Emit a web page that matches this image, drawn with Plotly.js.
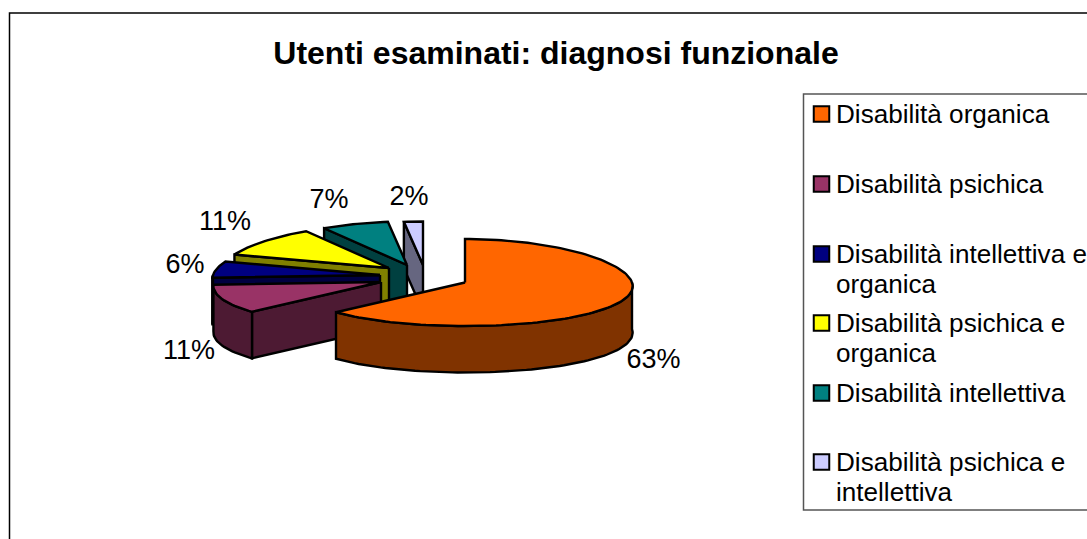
<!DOCTYPE html>
<html>
<head>
<meta charset="utf-8">
<script src="https://cdn.plot.ly/plotly-3.0.1.min.js"></script>
<style>html,body{margin:0;padding:0;background:#fff;overflow:hidden}#c{width:1087px;height:539px}</style>
</head>
<body>
<div id="c"></div>
<script>
// --- data ---
const titleText = 'Utenti esaminati: diagnosi funzionale';
const categories = ['Disabilità organica','Disabilità psichica','Disabilità intellettiva e<br>organica','Disabilità psichica e<br>organica','Disabilità intellettiva','Disabilità psichica e<br>intellettiva'];
const percentages = [63, 11, 6, 11, 7, 2];

// --- styles ---
const topColors  = ['#FF6600','#993366','#000080','#FFFF00','#008080','#CCCCFF'];
const sideColors = ['#803300','#4D1A33','#000040','#808000','#004040','#666680'];

// --- layout of the exploded 3D pie ---
const apexX = [465, 381, 380, 389, 407, 423];
const apexY = [282.5, 282, 275, 268, 265, 265];
const radiusX = 167, radiusY = 43.5, depth = 46.5, persp = 0.002;
const labelX = [653.5, 189, 185, 225, 329, 409];
const labelY = [361, 352, 266, 223, 201, 198];
const keyX = 821.5, textX = 835;
const keyY = [114, 184, 254, 323, 393, 462];

const total = percentages.reduce((a,b)=>a+b,0);
const traces = [];
function pt(i, a){
  const yo = -radiusY*Math.cos(a);
  return [apexX[i] + radiusX*Math.sin(a)*(1+persp*yo), apexY[i] + yo];
}
function poly(xy, color){
  traces.push({type:'scatter',mode:'lines',x:xy.map(p=>p[0]),y:xy.map(p=>p[1]),fill:'toself',fillcolor:color,
    line:{color:'#000',width:2.4,shape:'linear'},hoverinfo:'skip',showlegend:false});
}
function arc(i,a0,a1,dy){
  const n = Math.max(2,Math.ceil(Math.abs(a1-a0)/0.03)), out=[];
  for(let k=0;k<=n;k++){const p=pt(i,a0+(a1-a0)*k/n);out.push([p[0],p[1]+dy]);}
  return out;
}
const starts=[];let acc=0;
percentages.forEach(v=>{starts.push(acc/total*2*Math.PI);acc+=v;});
for(let i=percentages.length-1;i>=0;i--){
  const a0=starts[i], a1=a0+percentages[i]/total*2*Math.PI;
  const ax=[apexX[i],apexY[i]];
  if(Math.sin(a0)<0){const p=pt(i,a0);
    poly([ax,p,[p[0],p[1]+depth],[ax[0],ax[1]+depth],ax],sideColors[i]);}
  if(Math.sin(a1)>0){const p=pt(i,a1);
    poly([ax,p,[p[0],p[1]+depth],[ax[0],ax[1]+depth],ax],sideColors[i]);}
  const w0=Math.max(a0,Math.PI/2), w1=Math.min(a1,Math.PI*1.5);
  if(w1>w0){const up=arc(i,w0,w1,0), dn=arc(i,w1,w0,depth);
    poly(up.concat(dn,[up[0]]),sideColors[i]);}
  poly([ax].concat(arc(i,a0,a1,0),[ax]),topColors[i]);
}
// percentage labels
traces.push({type:'scatter',mode:'text',x:labelX,y:labelY,text:percentages.map(v=>v+'%'),textposition:'middle center',
  textfont:{family:'Liberation Sans, Arial, sans-serif',size:27,color:'#000'},hoverinfo:'skip',showlegend:false});
// legend keys
traces.push({type:'scatter',mode:'markers',x:keyY.map(()=>keyX),y:keyY,
  marker:{symbol:'square',size:15.5,color:topColors,line:{color:'#000',width:2}},hoverinfo:'skip',showlegend:false});

const annotations = categories.map((c,i)=>({
  xref:'x',yref:'y',x:textX,y:keyY[i]-16.3,xanchor:'left',yanchor:'top',align:'left',showarrow:false,borderpad:0,
  text:c.split('<br>').map(s=>'<span style="font-size:26.1px">'+s+'</span>').join('<br>'),
  font:{family:'Liberation Sans, Arial, sans-serif',size:23.08,color:'#000'}
}));

const layout = {
  width:1087,height:539,margin:{l:0,r:0,t:0,b:0},paper_bgcolor:'#fff',plot_bgcolor:'#fff',showlegend:false,
  title:{text:titleText,x:556/1087,xanchor:'center',y:1-53/539,yanchor:'middle',
    font:{family:'Liberation Sans, Arial, sans-serif',size:32,color:'#000',weight:'bold'}},
  xaxis:{range:[0,1087],visible:false,fixedrange:true},
  yaxis:{range:[539,0],visible:false,fixedrange:true},
  annotations,
  shapes:[
    {type:'path',path:'M 1200 13 L 9.5 13 L 9.5 600',line:{color:'#000',width:1.5},layer:'below'},
    {type:'path',path:'M 1200 94 L 803.5 94 L 803.5 510 L 1200 510',line:{color:'#555',width:1.5},layer:'below'}
  ]
};
Plotly.newPlot('c',traces,layout,{displayModeBar:false,staticPlot:true});
</script>
</body>
</html>
